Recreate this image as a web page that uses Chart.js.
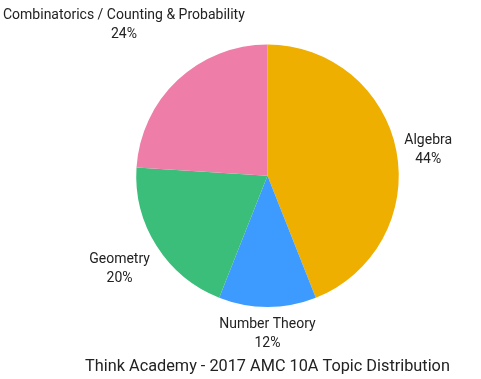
<!DOCTYPE html>
<html>
<head>
<meta charset="utf-8">
<script src="https://cdn.jsdelivr.net/npm/chart.js@4"></script>
<style>
html,body{margin:0;padding:0;background:#fff;}
canvas{display:block;}
</style>
</head>
<body>
<canvas id="c" width="481" height="379"></canvas>
<script>
const categories = ["Algebra", "Number Theory", "Geometry", "Combinatorics / Counting & Probability"];
const values = [44, 12, 20, 24];
const colors = ["#EEAF00", "#3D9BFF", "#3CBE7B", "#EE7EA8"];
const titleText = "Think Academy - 2017 AMC 10A Topic Distribution";

function ramp(v) { return Math.sign(v) * Math.min(Math.max((Math.abs(v) - 0.2) / 0.3, 0), 1); }

const labelPlugin = {
  id: 'outerLabels',
  afterDatasetsDraw(chart) {
    const ctx = chart.ctx;
    const meta = chart.getDatasetMeta(0);
    const total = values.reduce((a, b) => a + b, 0);
    const W = chart.width;
    ctx.save();
    ctx.font = '14px Roboto';
    ctx.fillStyle = '#222';
    ctx.textAlign = 'center';
    ctx.textBaseline = 'middle';
    meta.data.forEach((arc, i) => {
      const p = arc.getProps(['x', 'y', 'startAngle', 'endAngle', 'outerRadius'], true);
      const mid = (p.startAngle + p.endAngle) / 2;
      const ux = Math.cos(mid), uy = Math.sin(mid);
      const lines = [categories[i], Math.round(values[i] / total * 100) + '%'];
      const w = Math.max(...lines.map(l => ctx.measureText(l).width)) / 2;
      const h = 19;
      const r = p.outerRadius;
      let D = r + 8;
      let cx, cy;
      for (let k = 0; k < 300; k++) {
        cx = p.x + ux * D + ramp(ux) * w;
        cy = p.y + uy * D + ramp(uy) * h;
        cx = Math.min(Math.max(cx, w + 3), W - w - 3);
        const nx = Math.min(Math.max(p.x, cx - w), cx + w);
        const ny = Math.min(Math.max(p.y, cy - h), cy + h);
        if (Math.hypot(nx - p.x, ny - p.y) >= r + 2) break;
        D += 0.5;
      }
      ctx.fillText(lines[0], cx, cy - 9.5);
      ctx.fillText(lines[1], cx, cy + 9.5);
    });
    ctx.restore();
  }
};

Chart.defaults.font.family = 'Roboto';
new Chart(document.getElementById('c'), {
  type: 'pie',
  data: {
    labels: categories,
    datasets: [{
      data: values,
      backgroundColor: colors,
      borderWidth: 0
    }]
  },
  options: {
    responsive: false,
    animation: false,
    layout: { padding: { left: 54, right: 0, top: 44.5, bottom: 0 } },
    plugins: {
      legend: { display: false },
      tooltip: { enabled: false },
      title: {
        display: true,
        text: titleText,
        position: 'bottom',
        color: '#222',
        font: { size: 16.3, weight: 'normal', family: 'Roboto' },
        padding: { top: 50, bottom: 2.4 }
      }
    }
  },
  plugins: [labelPlugin]
});
</script>
</body>
</html>
